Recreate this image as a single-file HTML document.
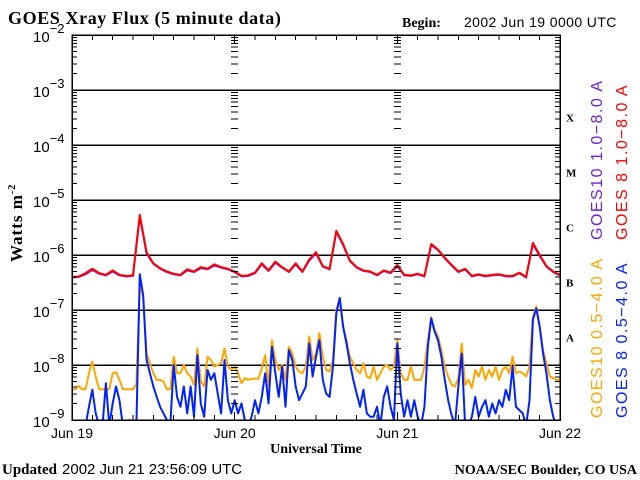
<!DOCTYPE html>
<html><head><meta charset="utf-8"><style>
html,body{margin:0;padding:0;background:#fff;}
svg{display:block;}
.serif{font-family:"Liberation Serif",serif;font-weight:bold;}
.sans{font-family:"Liberation Sans",sans-serif;}
</style></head><body>
<svg id="chart" width="640" height="480" viewBox="0 0 640 480" xmlns="http://www.w3.org/2000/svg">
<text class="serif" x="8" y="24" font-size="18" letter-spacing="0.6">GOES Xray Flux (5 minute data)</text>
<text class="serif" x="402" y="27" font-size="14">Begin:</text>
<text class="sans" x="464" y="27" font-size="14" letter-spacing="0.4">2002 Jun 19 0000 UTC</text>
<text class="serif" x="0" y="0" font-size="17" letter-spacing="1" transform="translate(22,262) rotate(-90)">Watts m<tspan font-size="10" dy="-7">-2</tspan></text>
<text class="serif" x="316" y="453" font-size="14" text-anchor="middle">Universal Time</text>
<text x="2" y="474" font-size="15"><tspan class="serif">Updated</tspan><tspan class="sans" dx="5">2002 Jun 21 23:56:09 UTC</tspan></text>
<text class="serif" x="637" y="474" font-size="14" text-anchor="end">NOAA/SEC Boulder, CO USA</text>
<g id="grid"></g>
<g id="series" clip-path="url(#plotclip)"></g>
<g id="axes"></g>
<defs><clipPath id="plotclip"><rect x="72" y="35" width="488" height="385"/></clipPath></defs>
<text class="sans" font-size="16" letter-spacing="1.5" fill="#7020d0" transform="translate(602,240) rotate(-90)">GOES10 1.0−8.0 A</text>
<text class="sans" font-size="16" letter-spacing="1.5" fill="#ff0000" transform="translate(627,240) rotate(-90)">GOES 8 1.0−8.0 A</text>
<text class="sans" font-size="16" letter-spacing="1.5" fill="#ffa500" transform="translate(602,418) rotate(-90)">GOES10 0.5−4.0 A</text>
<text class="sans" font-size="16" letter-spacing="1.5" fill="#0022ff" transform="translate(627,418) rotate(-90)">GOES 8 0.5−4.0 A</text>
</svg>
<script>
// log10 flux values
const goes8Long = [-6.40,-6.39,-6.33,-6.25,-6.33,-6.36,-6.28,-6.36,-6.38,-6.37,-5.27,-5.95,-6.15,-6.24,-6.30,-6.34,-6.36,-6.26,-6.30,-6.22,-6.25,-6.17,-6.22,-6.25,-6.30,-6.38,-6.37,-6.32,-6.15,-6.28,-6.12,-6.22,-6.30,-6.15,-6.30,-6.08,-5.95,-6.20,-6.25,-5.56,-5.80,-6.10,-6.22,-6.28,-6.30,-6.36,-6.28,-6.32,-6.18,-6.36,-6.37,-6.34,-6.38,-5.80,-5.90,-6.05,-6.18,-6.30,-6.25,-6.38,-6.35,-6.38,-6.36,-6.35,-6.38,-6.38,-6.32,-6.40,-5.78,-6.00,-6.20,-6.30,-6.36];
const goes10Long = [-6.41,-6.40,-6.35,-6.27,-6.34,-6.37,-6.30,-6.37,-6.39,-6.38,-5.30,-5.97,-6.16,-6.25,-6.31,-6.35,-6.37,-6.28,-6.31,-6.24,-6.26,-6.19,-6.23,-6.26,-6.31,-6.39,-6.38,-6.33,-6.17,-6.29,-6.14,-6.23,-6.31,-6.17,-6.31,-6.10,-5.97,-6.21,-6.26,-5.58,-5.82,-6.11,-6.23,-6.29,-6.31,-6.37,-6.29,-6.33,-6.20,-6.37,-6.38,-6.35,-6.39,-5.82,-5.91,-6.06,-6.19,-6.31,-6.26,-6.39,-6.36,-6.39,-6.37,-6.36,-6.39,-6.39,-6.33,-6.41,-5.80,-6.02,-6.21,-6.31,-6.37];
const goes10Short = [-8.44,-8.44,-8.38,-8.44,-8.44,-8.15,-7.94,-8.21,-8.44,-8.44,-8.44,-8.44,-8.15,-8.13,-8.27,-8.44,-8.44,-8.44,-8.44,-8.35,-6.55,-6.76,-7.79,-7.97,-8.15,-8.27,-8.27,-8.30,-8.44,-8.44,-7.85,-8.15,-8.15,-8.00,-8.15,-8.21,-8.36,-7.70,-8.30,-8.39,-7.85,-7.91,-8.03,-8.00,-7.97,-7.70,-8.03,-8.09,
-8.03,-8.15,-8.33,-8.24,-8.27,-8.25,-8.25,-8.25,-8.06,-7.82,-8.39,-7.55,-7.91,-8.09,-8.00,-8.27,-7.67,-7.79,-8.03,-8.12,-8.15,-8.03,-7.48,-7.91,-7.79,-7.42,-7.85,-8.09,-8.12,-7.91,-7.00,-6.79,-7.30,-7.55,-7.85,-7.97,-8.09,-8.15,-7.97,-8.21,-8.24,-8.03,-8.27,-8.15,-8.03,-8.00,-8.09,-8.03,
-7.55,-8.15,-8.27,-8.27,-8.03,-8.27,-8.27,-8.27,-8.03,-7.55,-7.13,-7.36,-7.48,-7.73,-8.03,-8.21,-8.36,-8.39,-8.24,-7.61,-8.36,-8.27,-8.42,-8.09,-8.21,-8.03,-8.27,-8.09,-8.21,-8.03,-8.27,-8.09,-8.03,-8.15,-7.85,-8.15,-8.12,-8.15,-8.21,-8.03,-7.12,-6.94,-7.30,-7.73,-7.97,-8.21,-8.24,-8.27,-8.27];
const goes8Short = [-9.1,-9.1,-9.1,-9.1,-9.1,-8.76,-8.45,-8.88,-9.1,-9.1,-8.33,-9.1,-8.70,-8.39,-8.64,-9.1,-9.1,-9.0,-9.1,-9.1,-6.35,-6.73,-7.91,-8.15,-8.39,-8.58,-8.76,-8.88,-9.0,-9.1,-8.00,-8.58,-8.76,-8.39,-8.88,-8.39,-8.94,-7.82,-8.70,-8.94,-8.09,-8.27,-8.15,-8.52,-8.88,-7.91,-8.64,-8.88,
-8.64,-8.88,-8.70,-9.0,-9.1,-8.94,-8.64,-8.88,-8.58,-8.15,-8.70,-7.67,-8.15,-8.58,-8.03,-8.76,-7.73,-7.91,-8.39,-8.64,-8.52,-8.39,-7.61,-8.21,-7.85,-7.55,-8.27,-8.52,-8.58,-8.03,-7.06,-6.78,-7.30,-7.61,-7.97,-8.27,-8.52,-8.76,-8.45,-8.88,-8.94,-8.94,-8.76,-9.1,-8.58,-8.39,-8.76,-9.0,
-7.61,-8.52,-8.94,-8.64,-8.94,-8.64,-8.94,-9.1,-8.76,-7.67,-7.15,-7.39,-7.55,-7.85,-8.27,-8.64,-8.91,-9.1,-8.39,-7.79,-9.1,-9.1,-8.94,-8.58,-8.94,-8.76,-8.64,-8.94,-8.70,-8.88,-8.64,-8.76,-8.45,-8.64,-8.03,-8.76,-8.82,-8.88,-9.1,-8.64,-7.18,-6.97,-7.30,-7.79,-8.15,-8.64,-8.94,-9.1,-9.1];
const decadeLabels = ["-2","-3","-4","-5","-6","-7","-8","-9"];
const decadeExps = [-2,-3,-4,-5,-6,-7,-8,-9];
const dayLabels = ["Jun 19","Jun 20","Jun 21","Jun 22"];
const classLabels = ["X","M","C","B","A"];
const classExps = [-3.5,-4.5,-5.5,-6.5,-7.5];
const totalHours = 72;

const NS = "http://www.w3.org/2000/svg";
const L = 72, R = 560, T = 35, B = 420;
function yScale(lg){ return T + (-2 - lg) * (B - T) / 7; }
function xScale(h){ return L + h * (R - L) / totalHours; }
function mk(tag, attrs, parent){ const e = document.createElementNS(NS, tag); for (const k in attrs) e.setAttribute(k, attrs[k]); parent.appendChild(e); return e; }
const grid = document.getElementById('grid'), axes = document.getElementById('axes'), ser = document.getElementById('series');

decadeExps.forEach((d, i) => {
  if (d > -3 || d < -8) return;
  const ln = mk('line', {x1:L, x2:R, y1:yScale(d), y2:yScale(d), stroke:'#000', 'stroke-width':1.5, 'shape-rendering':'crispEdges'}, grid);
  
  
});
const frame = mk('rect', {x:L, y:T, width:R-L, height:B-T, fill:'none', stroke:'#000', 'stroke-width':1.5, 'shape-rendering':'crispEdges'}, axes);


const tickCols = [[L, 1], [R, -1], [xScale(24), 0], [xScale(48), 0]];
for (let d = -9; d < -2; d++) {
  for (let m = 1; m <= 9; m++) {
    const y = yScale(d + Math.log10(m));
    const len = m === 1 ? 8 : 5;
    tickCols.forEach(([x, dir]) => {
      let x1, x2;
      if (dir === 1) { x1 = x; x2 = x + len; } else if (dir === -1) { x1 = x - len; x2 = x; } else { x1 = x - len/2 - 1; x2 = x + len/2 + 1; }
      if (dir === 0 && m === 1) return;
      const t = mk('line', {x1, x2, y1:y, y2:y, stroke:'#000', 'stroke-width':1, 'shape-rendering':'crispEdges'}, axes);
      
      
    });
  }
}
for (let h = 3; h < totalHours; h += 3) {
  const x = xScale(h);
  const len = h % 24 === 0 ? 8 : 5;
  const t1 = mk('line', {x1:x, x2:x, y1:T, y2:T+len, stroke:'#000', 'stroke-width':1, 'shape-rendering':'crispEdges'}, axes);
  
  
  const t2 = mk('line', {x1:x, x2:x, y1:B-len, y2:B, stroke:'#000', 'stroke-width':1, 'shape-rendering':'crispEdges'}, axes);
  
  
}
decadeExps.forEach((d, i) => {
  const tx = mk('text', {x:33, y:yScale(d)+7, 'font-size':15, 'font-family':'"Liberation Sans", sans-serif'}, axes);
  
  
  tx.textContent = '10';
  const sp = mk('tspan', {'font-size':13, dy:-9}, tx);
  sp.textContent = decadeLabels[i].replace('-', '−');
});
dayLabels.forEach((lab, i) => {
  const tx = mk('text', {x:xScale(i*24), y:438, 'font-size':14, 'text-anchor':'middle', 'font-family':'"Liberation Sans", sans-serif'}, axes);
  
  
  tx.textContent = lab;
});
classLabels.forEach((lab, i) => {
  const tx = mk('text', {x:566, y:yScale(classExps[i])+4, 'font-size':11, 'font-weight':'bold', 'font-family':'"Liberation Serif", serif'}, axes);
  
  
  tx.textContent = lab;
});
function linePath(vals){
  const dt = totalHours / (vals.length - 1);
  return vals.map((v, i) => (i ? 'L' : 'M') + xScale(i*dt).toFixed(2) + ' ' + yScale(v).toFixed(2)).join(' ');
}
const seriesDefs = [[goes10Short,'#ffa500','series-goes10-short'],[goes8Short,'#0022ff','series-goes8-short'],[goes10Long,'#7020d0','series-goes10-long'],[goes8Long,'#ff0000','series-goes8-long']];
seriesDefs.forEach(([vals, col, name]) => {
  const p = mk('path', {d:linePath(vals), fill:'none', stroke:col, 'stroke-width':2, 'stroke-linejoin':'round'}, ser);
  
  
});
</script>
</body></html>
